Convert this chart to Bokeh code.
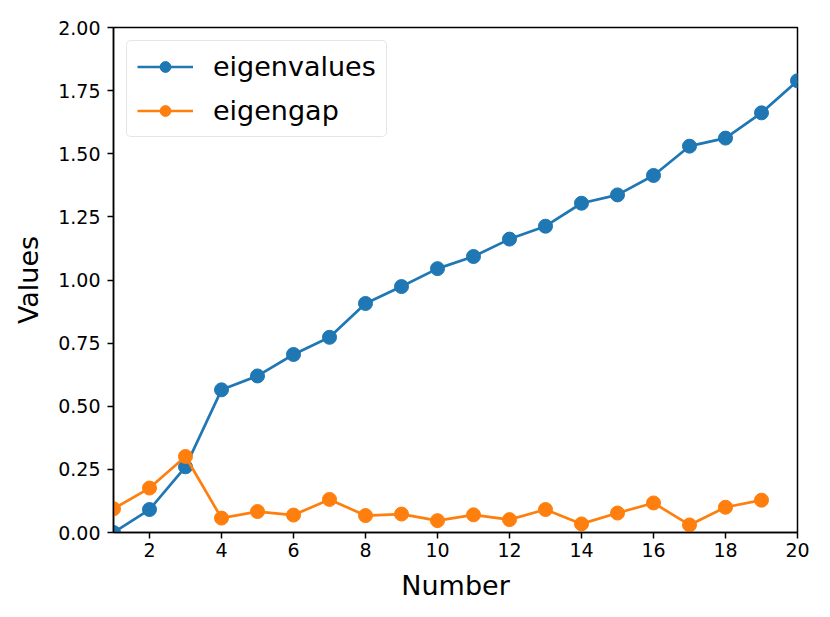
from bokeh.plotting import figure
from bokeh.models import Range1d, FixedTicker, NumeralTickFormatter, Legend, LegendItem
from bokeh.embed import file_html
from bokeh.resources import INLINE

number = list(range(1, 21))
eigenvalues = [0.0, 0.091, 0.26, 0.565, 0.62, 0.705, 0.773, 0.907, 0.974, 1.045,
               1.093, 1.162, 1.213, 1.304, 1.337, 1.414, 1.53, 1.562, 1.662, 1.789]
gap_number = list(range(1, 20))
eigengap = [0.094, 0.176, 0.301, 0.057, 0.083, 0.069, 0.131, 0.067, 0.073, 0.047,
            0.070, 0.051, 0.091, 0.034, 0.077, 0.117, 0.030, 0.100, 0.128]
x_ticks = [2, 4, 6, 8, 10, 12, 14, 16, 18, 20]
y_ticks = [0.0, 0.25, 0.5, 0.75, 1.0, 1.25, 1.5, 1.75, 2.0]

FONT = "DejaVu Sans"
BLUE = "#1f77b4"
ORANGE = "#ff7f0e"

p = figure(width=822, height=609, output_backend="svg", toolbar_location=None,
           x_range=Range1d(1, 20), y_range=Range1d(0, 2),
           min_border_left=113, min_border_right=25, min_border_top=27, min_border_bottom=77)

p.xgrid.visible = False
p.ygrid.visible = False
p.outline_line_color = "black"
p.outline_line_width = 1.5
p.outline_line_alpha = 1.0

for ax in (p.xaxis[0], p.yaxis[0]):
    ax.axis_line_color = "black"
    ax.axis_line_width = 1.5
    ax.major_tick_line_width = 1.5
    ax.major_tick_line_color = "black"
    ax.major_tick_out = 6
    ax.major_tick_in = 0
    ax.minor_tick_line_color = None
    ax.major_label_text_font = FONT
    ax.major_label_text_font_size = "19px"
    ax.major_label_text_color = "black"
    ax.axis_label_text_font = FONT
    ax.axis_label_text_font_size = "27px"
    ax.axis_label_text_font_style = "normal"
    ax.axis_label_text_color = "black"

p.xaxis.ticker = FixedTicker(ticks=x_ticks)
p.yaxis.ticker = FixedTicker(ticks=y_ticks)
p.yaxis.formatter = NumeralTickFormatter(format="0.00")
p.xaxis.axis_label = "Number"
p.yaxis.axis_label = "Values"
p.xaxis.major_label_standoff = 4
p.yaxis.major_label_standoff = 7
p.xaxis.axis_label_standoff = 10
p.yaxis.axis_label_standoff = 11

l1 = p.line(number, eigenvalues, line_color=BLUE, line_width=2.7)
c1 = p.scatter(number, eigenvalues, size=14, fill_color=BLUE, line_color=BLUE)
l2 = p.line(gap_number, eigengap, line_color=ORANGE, line_width=2.7)
c2 = p.scatter(gap_number, eigengap, size=14, fill_color=ORANGE, line_color=ORANGE)

legend = Legend(items=[LegendItem(label="eigenvalues", renderers=[l1, c1]),
                       LegendItem(label="eigengap", renderers=[l2, c2])],
                location="top_left")
legend.margin = 13
legend.padding = 10
legend.spacing = 13
legend.glyph_width = 56
legend.glyph_height = 27
legend.label_height = 27
legend.label_standoff = 20
legend.label_text_font = FONT
legend.label_text_font_size = "27px"
legend.label_text_color = "black"
legend.border_line_color = "#cccccc"
legend.border_line_width = 1.5
legend.border_radius = 5
legend.background_fill_alpha = 0.8
p.add_layout(legend)

open("out.html", "w").write(file_html(p, INLINE))
